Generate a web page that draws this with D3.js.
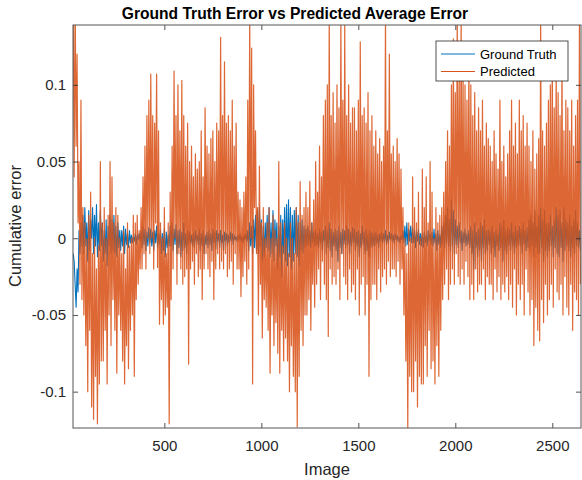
<!DOCTYPE html>
<html><head><meta charset="utf-8">
<script src="https://cdn.jsdelivr.net/npm/d3@7/dist/d3.min.js"></script>
<style>
body{margin:0;background:#fff;}
text{font-family:"Liberation Sans",Arial,Helvetica,sans-serif;}
</style></head>
<body><svg id="chart" width="582" height="480"></svg>
<script>
// Image numbers sampled every 5 images
const firstImage = 30, imageStep = 5;
const xTicks = [500, 1000, 1500, 2000, 2500];
const yTicks = [-0.1, -0.05, 0, 0.05, 0.1];
const seriesNames = ["Ground Truth", "Predicted"];
// Predicted average error (units of 0.001)
const predictedMilli = [
150,40,160,60,120,10,50,-30,90,-40,
20,-50,10,-70,0,-100,15,-60,30,-110,
-10,-118,0,-90,-20,-121,-5,-95,50,-80,
10,-80,20,-60,0,-95,15,-50,50,-70,
40,-40,10,-60,20,-88,15,-50,0,-60,
-10,-80,5,-95,-20,-70,10,-85,-5,-60,
0,-50,15,-90,10,-40,15,-30,5,-20,
20,-20,40,-10,60,-20,80,0,90,-10,
107,0,80,-20,75,10,107,-19,70,-56,
10,-40,0,-56,20,-50,-10,-45,10,-121,
30,-40,60,-20,109,0,80,-30,100,-10,
70,-20,103,-30,80,-25,60,-20,75,-82,
50,-20,60,-15,40,-30,55,-10,45,-25,
50,-20,70,-40,40,-20,85,-10,60,-20,
55,-25,65,-15,70,-40,50,-20,75,-10,
70,-20,131,-15,80,-20,115,-10,75,-25,
80,-20,70,-15,90,-30,60,-10,75,-20,
30,-20,25,-38,20,-25,30,-15,40,-30,
90,-20,145,0,124,-95,100,20,70,-10,
20,-50,47,-30,10,-65,20,-40,0,-45,
10,-60,20,-88,0,-50,15,-70,5,-55,
0,-75,50,-88,10,-60,-5,-80,10,-65,
0,-80,-10,-100,10,-70,0,-90,-10,-100,
20,-123,10,-90,37,-60,15,-70,20,-50,
30,-50,20,-40,37,-60,10,-30,25,-45,
50,-30,30,-20,60,-40,40,-15,80,-30,
90,-40,100,-64,145,-20,80,-30,95,-25,
75,-30,100,-20,85,-40,145,-10,90,-25,
140,-30,80,-40,100,-20,75,-35,85,-30,
85,-40,70,-20,90,-50,128,-30,80,-25,
85,-50,75,-30,95,-90,70,-40,80,-30,
60,-30,70,-40,55,-20,65,-35,50,-25,
60,-20,145,-30,70,-15,120,-25,55,-20,
60,-20,50,-25,65,-15,55,-30,45,-20,
20,-50,0,-80,-10,-124,10,-90,0,-100,
40,-100,20,-80,10,-110,30,-90,0,-95,
45,-95,20,-70,40,-90,10,-60,50,-85,
30,-80,0,-95,20,-70,10,-90,15,-60,
20,-40,30,-30,50,-20,70,-40,60,-30,
100,-20,130,-30,95,-10,145,-25,110,-30,
145,-20,110,-30,100,-15,90,-25,120,-40,
100,-30,80,-40,95,-20,70,-35,85,-30,
70,-30,90,-20,60,-40,75,-25,65,-30,
60,-30,50,-40,70,-20,55,-35,45,-25,
90,-40,50,-30,60,-35,40,-25,55,-40,
70,-30,90,-45,60,-20,75,-50,55,-30,
90,-40,70,-30,80,-50,60,-20,75,-35,
60,-50,50,-40,70,-70,45,-45,55,-60,
65,-67,145,-40,70,-55,60,-30,75,-50,
90,-40,100,-30,120,-45,85,-20,110,-35,
95,-40,80,-30,120,-50,70,-25,90,-45,
85,-50,70,-30,90,-60,60,-35,80,-40,
90,-50,145,-30
];
// Ground truth error (units of 0.001)
const groundTruthMilli = [
-10,-15,-30,-45,-20,-35,5,-10,10,-5,
15,-10,20,-5,10,-15,18,-8,12,0,
20,-10,15,-5,22,-12,10,-8,18,-5,
10,-15,5,-10,12,-18,8,-5,15,-10,
12,-8,15,-10,8,-12,10,-6,5,-8,
5,-5,8,-10,6,-4,3,-6,5,-3,
2,-3,1,-2,3,-4,2,-1,3,-2,
5,-6,8,-4,6,-8,4,-5,7,-3,
6,-5,4,-8,5,-3,8,-6,3,-4,
5,-10,3,-8,6,-12,4,-6,2,-5,
8,-5,10,-8,6,-4,9,-10,5,-6,
6,-12,4,-8,10,-6,3,-10,5,-4,
4,-3,2,-5,3,-6,5,-2,2,-4,
6,-8,3,-5,5,-10,2,-4,4,-6,
5,-4,3,-8,6,-3,4,-7,5,-2,
3,-6,5,-3,2,-8,4,-2,3,-5,
2,-3,4,-2,3,-4,2,-1,1,-2,
2,-1,3,-2,1,-3,2,-1,3,-2,
5,-8,10,-5,8,-10,12,-6,15,-8,
18,-10,20,-5,12,-15,8,-12,10,-6,
15,-8,20,-12,10,-10,18,-15,12,-5,
10,-20,8,-12,15,-25,12,-10,20,-15,
22,-18,25,-12,20,-20,15,-15,18,-10,
20,-12,15,-18,10,-8,12,-10,8,-6,
6,-5,8,-4,5,-6,10,-3,4,-5,
5,-4,3,-6,6,-3,4,-8,5,-2,
8,-10,5,-6,10,-8,6,-12,4,-5,
6,-8,5,-15,8,-6,4,-10,6,-4,
5,-6,8,-4,6,-10,4,-5,7,-3,
6,-8,4,-5,5,-12,3,-6,8,-4,
4,-10,6,-8,3,-12,5,-6,4,-5,
3,-5,4,-3,2,-6,3,-2,4,-3,
3,-2,5,-4,2,-3,4,-1,3,-2,
2,-3,3,-1,2,-2,1,-3,2,-1,
5,-3,8,-5,10,-4,6,-2,8,-3,
7,-3,5,-6,4,-2,6,-4,3,-5,
3,-6,4,-3,2,-5,5,-2,3,-4,
4,-5,6,-3,3,-8,5,-4,2,-6,
8,-4,10,-6,15,-3,20,-5,12,-8,
25,-5,18,-10,12,-4,8,-6,10,-3,
5,-8,4,-3,6,-5,3,-4,5,-6,
8,-10,5,-20,10,-6,4,-12,6,-8,
10,-15,8,-6,12,-10,5,-8,6,-4,
5,-10,8,-6,4,-12,6,-5,3,-8,
10,-6,8,-15,12,-8,5,-10,7,-5,
6,-8,10,-5,4,-10,8,-6,5,-4,
8,-5,6,-10,10,-4,5,-8,7,-6,
12,-8,15,-5,10,-12,18,-6,8,-10,
15,-10,20,-6,12,-15,18,-8,10,-12,
10,-8,15,-5,8,-12,12,-6,20,-10,
15,-12,18,-6,10,-15,20,-8,12,-5,
10,-8,15,-12,8,-6,12,-10,18,-5,
10,-6,5,-8
];

const colors = ["#0072BD", "#D95319"];
const svg = d3.select("#chart");
const m = {left:73, right:581, top:25, bottom:428};

const x = d3.scaleLinear().domain([29, 2648]).range([m.left, m.right]);
const y = d3.scaleLinear().domain([-0.1237, 0.139]).range([m.bottom, m.top]);

const toSeries = arr => arr.map((v,i)=>({img:firstImage + i*imageStep, v:v/1000}));
const series = [toSeries(groundTruthMilli), toSeries(predictedMilli)];

svg.append("clipPath").attr("id","clip").append("rect")
  .attr("x",m.left).attr("y",m.top).attr("width",m.right-m.left).attr("height",m.bottom-m.top);

const line = d3.line().x(d=>x(d.img)).y(d=>y(d.v));
const g = svg.append("g").attr("clip-path","url(#clip)");
const widths = [1.1, 1.2];
const opac = [1, 0.88];
series.forEach((s,i)=>{
  g.append("path").datum(s).attr("d",line).attr("fill","none")
   .attr("stroke",colors[i]).attr("stroke-width",widths[i])
   .attr("stroke-opacity", opac[i]).attr("stroke-linejoin","round");
});

const axisColor = "#262626";
const fmt = d => d===0 ? "0" : String(d).replace("−","-");
const xb = svg.append("g").attr("transform",`translate(0,${m.bottom})`)
  .call(d3.axisBottom(x).tickValues(xTicks).tickSize(-5).tickPadding(12).tickFormat(d3.format("d")));
const xt = svg.append("g").attr("transform",`translate(0,${m.top})`)
  .call(d3.axisTop(x).tickValues(xTicks).tickSize(-5).tickFormat(""));
const yl = svg.append("g").attr("transform",`translate(${m.left},0)`)
  .call(d3.axisLeft(y).tickValues(yTicks).tickSize(-5).tickPadding(7).tickFormat(fmt));
const yr = svg.append("g").attr("transform",`translate(${m.right},0)`)
  .call(d3.axisRight(y).tickValues(yTicks).tickSize(-5).tickFormat(""));
[xb,xt,yl,yr].forEach(a=>{
  a.select(".domain").remove();
  a.selectAll("line").attr("stroke",axisColor).attr("stroke-width",0.8);
  a.selectAll("text").attr("fill",axisColor).style("font-size","15px")
   .style("font-family",'"Liberation Sans",Arial,Helvetica,sans-serif');
});
svg.append("rect").attr("x",m.left).attr("y",m.top).attr("width",m.right-m.left).attr("height",m.bottom-m.top)
  .attr("fill","none").attr("stroke","#555").attr("stroke-width",1);

svg.append("text").attr("x",295).attr("y",19).attr("text-anchor","middle")
  .style("font-size","15.6px").style("font-weight","bold").attr("fill","#000")
  .text("Ground Truth Error vs Predicted Average Error");
svg.append("text").attr("x",(m.left+m.right)/2).attr("y",475).attr("text-anchor","middle")
  .style("font-size","16.5px").attr("fill",axisColor).text("Image");
svg.append("text").attr("transform",`translate(21,226) rotate(-90)`)
  .attr("text-anchor","middle").style("font-size","16.5px").attr("fill",axisColor).text("Cumulative error");

// legend
const lg = svg.append("g").attr("transform","translate(436,41)");
lg.append("rect").attr("width",132).attr("height",40).attr("fill","#fff").attr("stroke","#262626").attr("stroke-width",0.8);
seriesNames.forEach((n,i)=>{
  const yy = 13 + i*17.5;
  lg.append("line").attr("x1",5).attr("x2",39).attr("y1",yy).attr("y2",yy)
    .attr("stroke",colors[i]).attr("stroke-width",1);
  lg.append("text").attr("x",44).attr("y",yy).attr("dy","0.35em")
    .style("font-size","13px").attr("fill","#000").text(n);
});
</script></body></html>
